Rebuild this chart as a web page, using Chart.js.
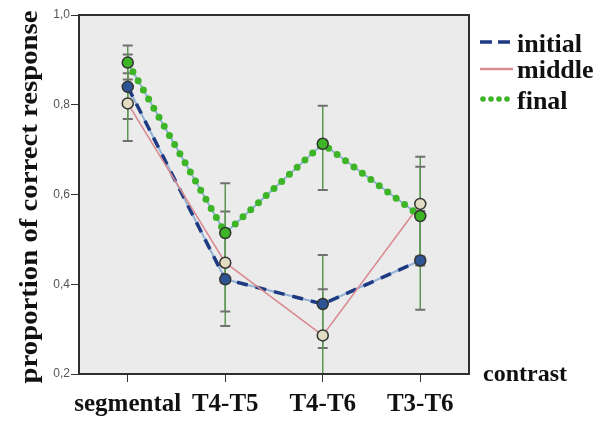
<!DOCTYPE html>
<html>
<head>
<meta charset="utf-8">
<script src="https://cdn.jsdelivr.net/npm/chart.js@4.4.1/dist/chart.umd.min.js"></script>
<style>
    body { margin: 0; background: #ffffff; }
    #wrap { width: 606px; height: 421px; }
</style>
</head>
<body>
<div id="wrap"><canvas id="chart" width="606" height="421"></canvas></div>
<script>
// categories on the x axis
const categories = ['segmental', 'T4-T5', 'T4-T6', 'T3-T6'];
const yTicks = [0.2, 0.4, 0.6, 0.8, 1.0];

// means per group
const initialMean = [0.840, 0.411, 0.356, 0.453];
const middleMean = [0.803, 0.448, 0.286, 0.579];
const finalMean = [0.894, 0.514, 0.713, 0.552];

// error bar ends (95% CI)
const initialLow = [0.768, 0.307, 0.258, 0.343];
const initialHigh = [0.912, 0.515, 0.465, 0.563];
const middleLow = [0.719, 0.339, 0.186, 0.462];
const middleHigh = [0.870, 0.562, 0.389, 0.684];
const finalLow = [0.856, 0.404, 0.610, 0.442];
const finalHigh = [0.932, 0.625, 0.798, 0.662];

const colors = {
    initial: '#1d3a82',
    middle: '#d98c92',
    final: '#3db526',
    underlay: '#93b3d6',
    stem: '#5d9552',
    cap: '#707070',
    plotBg: '#ebebeb',
    frame: '#2f2f2f',
    text: '#111111'
};

const serif = '"Liberation Serif", "Times New Roman", serif';

const errorBars = [
    { low: initialLow, high: initialHigh },
    { low: middleLow, high: middleHigh },
    { low: finalLow, high: finalHigh }
];

const plotPlugin = {
    id: 'plotDecor',
    beforeDraw(chart) {
        const a = chart.chartArea;
        const ctx = chart.ctx;
        ctx.save();
        ctx.fillStyle = colors.plotBg;
        ctx.fillRect(a.left, a.top, a.right - a.left, a.bottom - a.top);
        ctx.restore();
    },
    beforeDatasetsDraw(chart) {
        const a = chart.chartArea;
        const ctx = chart.ctx;
        const x = chart.scales.x;
        const y = chart.scales.y;
        ctx.save();
        ctx.beginPath();
        ctx.rect(a.left, a.top, a.right - a.left, a.bottom - a.top);
        ctx.clip();
        errorBars.forEach(bar => {
            categories.forEach((c, i) => {
                const px = x.getPixelForValue(i);
                const top = y.getPixelForValue(bar.high[i]);
                const bot = y.getPixelForValue(bar.low[i]);
                ctx.strokeStyle = colors.stem;
                ctx.lineWidth = 1.5;
                ctx.beginPath();
                ctx.moveTo(px, top);
                ctx.lineTo(px, bot);
                ctx.stroke();
                ctx.strokeStyle = colors.cap;
                ctx.lineWidth = 2;
                ctx.beginPath();
                ctx.moveTo(px - 5, top);
                ctx.lineTo(px + 5, top);
                ctx.moveTo(px - 5, bot);
                ctx.lineTo(px + 5, bot);
                ctx.stroke();
            });
        });
        ctx.restore();
    },
    afterDraw(chart) {
        const a = chart.chartArea;
        const ctx = chart.ctx;
        ctx.save();
        // frame
        ctx.strokeStyle = colors.frame;
        ctx.lineWidth = 2;
        ctx.strokeRect(a.left, a.top, a.right - a.left, a.bottom - a.top);

        // y axis title
        ctx.fillStyle = colors.text;
        ctx.font = 'bold 25px ' + serif;
        ctx.textAlign = 'center';
        ctx.textBaseline = 'alphabetic';
        ctx.translate(37, 197);
        ctx.rotate(-Math.PI / 2);
        ctx.scale(1.15, 1);
        ctx.fillText('proportion of correct response', 0, 0);
        ctx.restore();

        ctx.save();
        ctx.fillStyle = colors.text;
        ctx.font = 'bold 24px ' + serif;
        ctx.textAlign = 'left';
        ctx.fillText('contrast', 483, 381);

        // legend
        const lx = 480;
        const tx = 517;
        ctx.font = 'bold 26px ' + serif;
        // initial
        ctx.strokeStyle = colors.initial;
        ctx.lineWidth = 3.5;
        ctx.beginPath();
        ctx.moveTo(lx, 42); ctx.lineTo(lx + 12, 42);
        ctx.moveTo(lx + 18, 42); ctx.lineTo(lx + 30, 42);
        ctx.stroke();
        ctx.fillText('initial', tx, 52);
        // middle
        ctx.strokeStyle = colors.middle;
        ctx.lineWidth = 2.5;
        ctx.beginPath();
        ctx.moveTo(lx, 69); ctx.lineTo(lx + 33, 69);
        ctx.stroke();
        ctx.fillText('middle', tx, 78);
        // final
        ctx.fillStyle = colors.final;
        for (let k = 0; k < 4; k++) {
            ctx.beginPath();
            ctx.arc(lx + 3 + k * 8, 99, 2.8, 0, Math.PI * 2);
            ctx.fill();
        }
        ctx.fillStyle = colors.text;
        ctx.fillText('final', tx, 109);
        ctx.restore();
    }
};

const ctx = document.getElementById('chart').getContext('2d');
new Chart(ctx, {
    type: 'line',
    data: {
        labels: categories,
        datasets: [
            {
                label: 'final',
                data: finalMean,
                borderColor: colors.final,
                borderWidth: 7,
                borderDash: [0, 10.5],
                borderCapStyle: 'round',
                fill: false,
                tension: 0,
                pointRadius: 5.5,
                pointBackgroundColor: colors.final,
                pointBorderColor: '#333333',
                pointBorderWidth: 1.5
            },
            {
                label: 'final line',
                data: finalMean,
                borderColor: colors.underlay,
                borderWidth: 2,
                fill: false,
                tension: 0,
                pointRadius: 0
            },
            {
                label: 'middle',
                data: middleMean,
                borderColor: colors.middle,
                borderWidth: 1.6,
                fill: false,
                tension: 0,
                pointRadius: 5.5,
                pointBackgroundColor: '#e2ddc2',
                pointBorderColor: '#333333',
                pointBorderWidth: 1.5
            },
            {
                label: 'initial',
                data: initialMean,
                borderColor: colors.initial,
                borderWidth: 3.5,
                borderDash: [11, 8],
                fill: false,
                tension: 0,
                pointRadius: 5.5,
                pointBackgroundColor: '#2d5596',
                pointBorderColor: '#333333',
                pointBorderWidth: 1.5
            },
            {
                label: 'initial line',
                data: initialMean,
                borderColor: colors.underlay,
                borderWidth: 2,
                fill: false,
                tension: 0,
                pointRadius: 0
            }
        ]
    },
    options: {
        responsive: false,
        animation: false,
        layout: {
            padding: { left: 0, top: 15, right: 137, bottom: 0 }
        },
        plugins: {
            legend: { display: false },
            tooltip: { enabled: false }
        },
        scales: {
            x: {
                offset: true,
                grid: {
                    offset: false,
                    drawOnChartArea: false,
                    drawTicks: true,
                    tickLength: 8,
                    color: '#333333'
                },
                border: { color: colors.frame, width: 2 },
                ticks: {
                    color: colors.text,
                    padding: 8,
                    autoSkip: false,
                    maxRotation: 0,
                    minRotation: 0,
                    font: { family: serif, size: 25, weight: 'bold' }
                },
                afterFit: (scale) => { scale.height = 47; }
            },
            y: {
                min: 0.2,
                max: 1.0,
                afterBuildTicks: (scale) => {
                    scale.ticks = yTicks.map(v => ({ value: v }));
                },
                grid: {
                    drawOnChartArea: false,
                    drawTicks: true,
                    tickLength: 8,
                    color: '#333333'
                },
                border: { color: colors.frame, width: 2 },
                ticks: {
                    color: '#555555',
                    padding: 1,
                    font: { family: 'Arial, "Liberation Sans", sans-serif', size: 12 },
                    callback: (value) => value.toFixed(1).replace('.', ',')
                },
                afterFit: (scale) => { scale.width = 79; }
            }
        }
    },
    plugins: [plotPlugin]
});
</script>
</body>
</html>
